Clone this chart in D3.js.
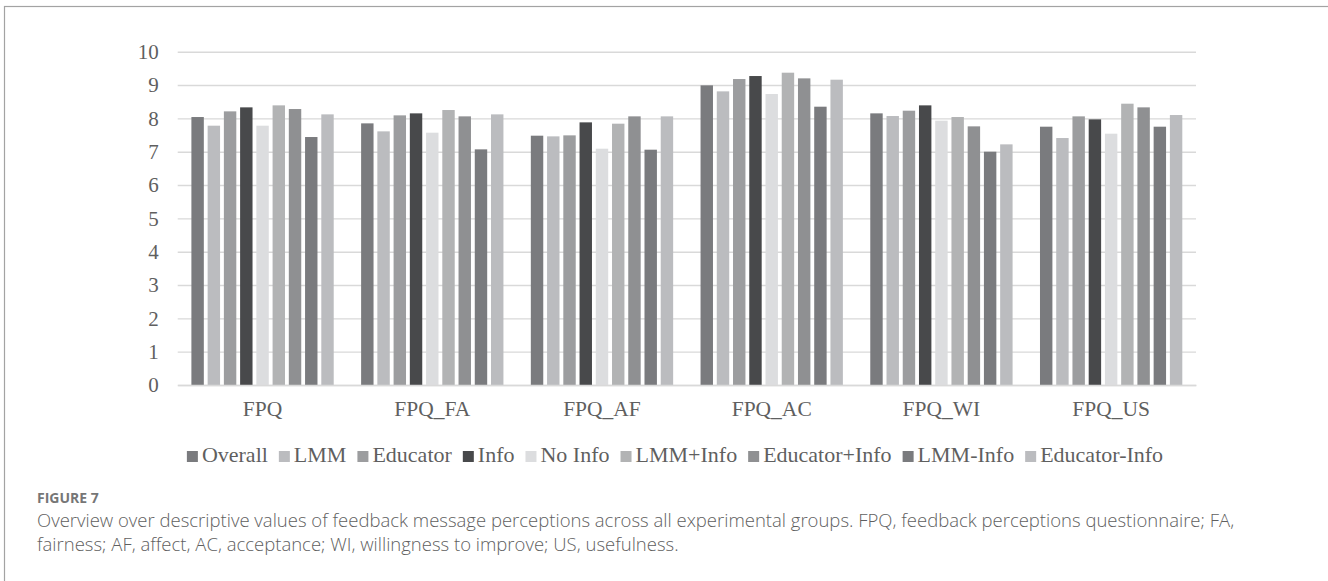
<!DOCTYPE html>
<html>
<head>
<meta charset="utf-8">
<script src="https://cdn.jsdelivr.net/npm/d3@7"></script>
<style>
  html, body { margin: 0; padding: 0; background: #fff; }
  svg { display: block; }
</style>
</head>
<body>
<svg id="chart" width="1328" height="581"></svg>
<script>
// Scale categories (x axis groups)
const categories = ["FPQ", "FPQ_FA", "FPQ_AF", "FPQ_AC", "FPQ_WI", "FPQ_US"];

// Experimental groups (legend order)
const seriesNames = ["Overall", "LMM", "Educator", "Info", "No Info", "LMM+Info", "Educator+Info", "LMM-Info", "Educator-Info"];

// Mean perception scores per group, one value per category
const overall      = [8.04, 7.85, 7.48, 8.99, 8.15, 7.75];
const lmm          = [7.78, 7.61, 7.46, 8.81, 8.07, 7.41];
const educator     = [8.21, 8.09, 7.49, 9.18, 8.23, 8.06];
const info         = [8.33, 8.15, 7.88, 9.27, 8.39, 7.97];
const noInfo       = [7.78, 7.57, 7.09, 8.73, 7.93, 7.54];
const lmmInfo      = [8.39, 8.25, 7.84, 9.37, 8.04, 8.44];
const educatorInfo = [8.28, 8.06, 8.06, 9.20, 7.76, 8.33];
const lmmNoInfo    = [7.44, 7.07, 7.06, 8.35, 7.00, 7.75];
const educatorNoInfo = [8.12, 8.12, 8.06, 9.16, 7.22, 8.10];

const yTicks = [0, 1, 2, 3, 4, 5, 6, 7, 8, 9, 10];

const seriesValues = [overall, lmm, educator, info, noInfo, lmmInfo, educatorInfo, lmmNoInfo, educatorNoInfo];
const seriesColors = ["#7a7b7e", "#bbbcbf", "#9c9d9f", "#48494b", "#dcdddf", "#b2b3b4", "#8f9092", "#7a7b7e", "#bbbcbf"];

const svg = d3.select("#chart");

// Outer figure frame (top and left edges visible)
svg.append("rect")
  .attr("x", 4.5).attr("y", 6.5)
  .attr("width", 1340).attr("height", 600)
  .attr("fill", "none")
  .attr("stroke", "#a3a3a3")
  .attr("stroke-width", 1.2);

const plot = { left: 177.7, right: 1196, top: 51.7, bottom: 385 };

const x0 = d3.scaleBand().domain(categories).range([plot.left, plot.right]).padding(0);
const x1 = d3.scaleBand().domain(seriesNames)
  .range([13.7, x0.bandwidth() - 13.7])
  .paddingInner(0.235).paddingOuter(0);
const y = d3.scaleLinear().domain([0, 10]).range([plot.bottom, plot.top]);

const serifFont = "'Liberation Serif', 'Times New Roman', serif";
const textColor = "#5f5f5f";

// Horizontal gridlines
const yAxis = d3.axisLeft(y).tickValues(yTicks).tickSize(-(plot.right - plot.left)).tickPadding(19).tickFormat(d3.format("d"));
const gy = svg.append("g").attr("transform", `translate(${plot.left},0)`).call(yAxis);
gy.select(".domain").remove();
gy.selectAll(".tick line").attr("stroke", "#d9d9d9").attr("stroke-width", 1.4);
gy.selectAll(".tick text")
  .attr("font-family", serifFont).attr("font-size", 21).attr("fill", textColor);

// Bars
const groups = svg.append("g").selectAll("g")
  .data(categories)
  .join("g")
  .attr("transform", d => `translate(${x0(d)},0)`);

groups.selectAll("rect")
  .data((c, ci) => seriesNames.map((s, si) => ({ s, si, v: seriesValues[si][ci] })))
  .join("rect")
  .attr("x", d => x1(d.s))
  .attr("width", x1.bandwidth())
  .attr("y", d => y(d.v))
  .attr("height", d => y(0) - y(d.v))
  .attr("fill", d => seriesColors[d.si]);

// Category axis
const xAxis = d3.axisBottom(x0).tickSize(0).tickPadding(0);
const gx = svg.append("g").attr("transform", `translate(0,${plot.bottom})`).call(xAxis);
gx.select(".domain").attr("stroke", "#d9d9d9").attr("stroke-width", 1.4);
gx.selectAll(".tick text")
  .attr("font-family", serifFont).attr("font-size", 21.5).attr("fill", textColor)
  .attr("dy", 0).attr("y", 31);

// Legend
const legend = svg.append("g");
const items = legend.selectAll("g").data(seriesNames).join("g");
items.append("rect")
  .attr("width", 11).attr("height", 11)
  .attr("y", -11)
  .attr("fill", (d, i) => seriesColors[i]);
items.append("text")
  .attr("x", 15).attr("y", 0)
  .attr("font-family", serifFont).attr("font-size", 22).attr("fill", textColor)
  .text(d => d);
let cx = 0;
items.each(function () {
  const g = d3.select(this);
  g.attr("transform", `translate(${cx},0)`);
  cx += 15 + g.select("text").node().getComputedTextLength() + 11;
});
const legendWidth = cx - 11;
legend.attr("transform", `translate(${675 - legendWidth / 2},462)`);

// Figure caption
const caption = svg.append("g").attr("font-family", "'Open Sans', Lato, sans-serif");
caption.append("text")
  .attr("x", 37).attr("y", 503)
  .attr("font-size", 14).attr("font-weight", 700).attr("fill", "#767676")
  .text("FIGURE 7");
caption.append("text")
  .attr("x", 37).attr("y", 527)
  .attr("font-size", 18.5).attr("font-weight", 300).attr("fill", "#5f5f5f")
  .text("Overview over descriptive values of feedback message perceptions across all experimental groups. FPQ, feedback perceptions questionnaire; FA,");
caption.append("text")
  .attr("x", 37).attr("y", 551)
  .attr("font-size", 18.5).attr("font-weight", 300).attr("fill", "#5f5f5f")
  .text("fairness; AF, affect, AC, acceptance; WI, willingness to improve; US, usefulness.");
</script>
</body>
</html>
